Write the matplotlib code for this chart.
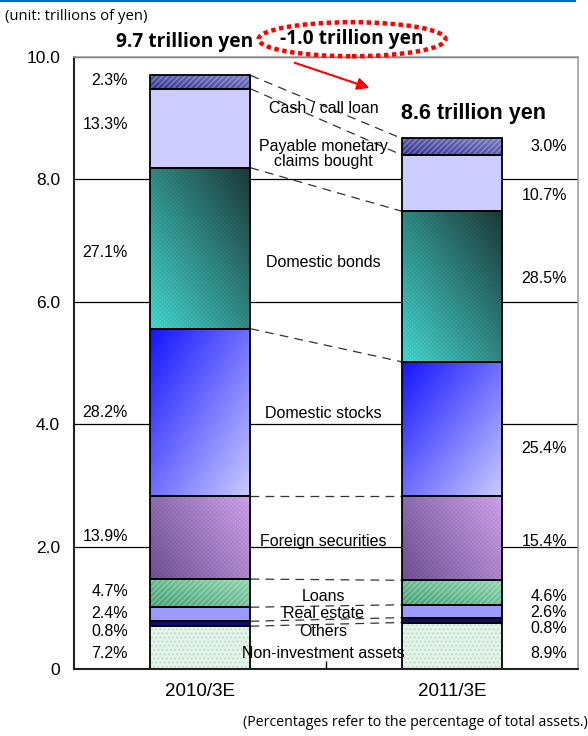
import numpy as np
import matplotlib.pyplot as plt
from matplotlib.patches import Ellipse
from matplotlib.lines import Line2D
from matplotlib.colors import to_rgb

# Data (trillions of yen, stacked bottom to top)
periods = ["2010/3E", "2011/3E"]
categories = ["Non-investment assets", "Others", "Real estate", "Loans",
              "Foreign securities", "Domestic stocks", "Domestic bonds",
              "Payable monetary\nclaims bought", "Cash / call loan"]
values_2010 = [0.70, 0.08, 0.23, 0.46, 1.35, 2.74, 2.63, 1.29, 0.22]
values_2011 = [0.76, 0.08, 0.21, 0.40, 1.37, 2.20, 2.46, 0.92, 0.27]
pct_2010 = ["7.2%", "0.8%", "2.4%", "4.7%", "13.9%", "28.2%", "27.1%", "13.3%", "2.3%"]
pct_2011 = ["8.9%", "0.8%", "2.6%", "4.6%", "15.4%", "25.4%", "28.5%", "10.7%", "3.0%"]
totals = ["9.7 trillion yen", "8.6 trillion yen"]
change = "-1.0 trillion yen"
yticks = [0, 2, 4, 6, 8, 10]
ytick_labels = ["0", "2.0", "4.0", "6.0", "8.0", "10.0"]

# label placement (layout only)
pct_y_2010 = [0.25, 0.61, 0.90, 1.26, 2.16, 4.19, 6.81, 8.89, 9.61]
pct_y_2011 = [0.25, 0.67, 0.92, 1.18, 2.09, 3.60, 6.38, 7.74, 8.54]
name_y = [0.25, 0.61, 0.90, 1.18, 2.09, 4.17, 6.64, 8.41, 9.15]

# fill styles: start colour, end colour, gradient direction, hatch, hatch colour
fills = [
    ("#e4f4ea", "#e4f4ea", (1, 0), "....", (0.55, 0.75, 0.62, 0.35)),
    ("#0b0b70", "#0b0b70", (1, 0), None, None),
    ("#9a9aff", "#9a9aff", (1, 0), None, None),
    ("#3f9f70", "#8fd6b0", (1, 1), "//////", (1, 1, 1, 0.3)),
    ("#74559a", "#d8aaf8", (1, 0.5), "xxxxxxxx", (0, 0, 0, 0.08)),
    ("#1414ff", "#cacaff", (1, -1), None, None),
    ("#48e2da", "#1c3c3a", (1, 1), "xxxxxxxx", (0, 0, 0, 0.08)),
    ("#ccccff", "#ccccff", (1, 0), None, None),
    ("#30308c", "#7c7cc8", (1, 1), "//////", (1, 1, 1, 0.3)),
]

MAIN = "Liberation Sans"
JP = "Open Sans"

fig, ax = plt.subplots(figsize=(5.88, 7.36), dpi=100)
fig.subplots_adjust(left=0.126, right=0.983, bottom=0.091, top=0.9226)

x = np.arange(len(periods))
width = 0.4
vals = np.array([values_2010, values_2011])
tops = np.cumsum(vals, axis=1)
bottoms = tops - vals


def gradient(c0, c1, d, n=80):
    u, v = np.meshgrid(np.linspace(0, 1, n), np.linspace(0, 1, n))
    t = d[0] * u + d[1] * v
    t = (t - t.min()) / (t.max() - t.min())
    a, b = np.array(to_rgb(c0)), np.array(to_rgb(c1))
    return a + (b - a) * t[..., None]


for k in range(len(categories)):
    c0, c1, d, hatch, hcol = fills[k]
    bars = ax.bar(x, vals[:, k], width, bottom=bottoms[:, k], color=c0,
                  edgecolor="none", zorder=2)
    if c0 != c1:
        for p in bars:
            im = ax.imshow(gradient(c0, c1, d), origin="lower", aspect="auto",
                           extent=(p.get_x(), p.get_x() + p.get_width(),
                                   p.get_y(), p.get_y() + p.get_height()),
                           zorder=2.1, interpolation="bilinear")
            im.set_clip_path(p)
    if hatch:
        ax.bar(x, vals[:, k], width, bottom=bottoms[:, k], facecolor="none",
               edgecolor=hcol, linewidth=0, hatch=hatch, zorder=2.2)
    ax.bar(x, vals[:, k], width, bottom=bottoms[:, k], facecolor="none",
           edgecolor="black", linewidth=1.3, zorder=2.5)

# connectors between bars
for k in range(len(categories)):
    ax.plot([x[0] + width / 2, x[1] - width / 2], [tops[0, k], tops[1, k]],
            ls=(0, (7, 5)), color="#333333", lw=0.9, zorder=1.5)

# labels
for k, name in enumerate(categories):
    ax.text(-0.286, pct_y_2010[k], pct_2010[k], ha="right", va="center",
            fontsize=11.5, family=MAIN)
    ax.text(1.456, pct_y_2011[k], pct_2011[k], ha="right", va="center",
            fontsize=11.5, family=MAIN)
    ax.text(0.49, name_y[k], name, ha="center", va="center", fontsize=11.5,
            family=MAIN, linespacing=1.0, zorder=3)

ax.set_xlim(-0.5, 1.5)
ax.set_ylim(0, 10)
ax.set_yticks(yticks, ytick_labels, fontsize=12.5, family=MAIN)
ax.set_xticks(x, periods, fontsize=13.5, family=MAIN)
ax.set_xticks([0.5], minor=True)
ax.tick_params(axis="both", which="major", length=0, pad=10)
ax.tick_params(axis="x", which="minor", direction="in", length=6, width=1)
ax.yaxis.grid(True, color="black", lw=0.9)
ax.set_axisbelow(True)
for s in ("left", "bottom"):
    ax.spines[s].set_color("#222222")
    ax.spines[s].set_linewidth(1.5)
for s in ("top", "right"):
    ax.spines[s].set_color("#a0a0a0")
    ax.spines[s].set_linewidth(1.2)

# totals and change annotation
ax.text(-0.06, 10.25, totals[0], ha="center", va="center", fontsize=13.8,
        fontweight="bold", family=JP, clip_on=False)
ax.text(1.087, 9.07, totals[1], ha="center", va="center", fontsize=15.5,
        fontweight="bold", family=MAIN)
ax.add_patch(Ellipse((0.603, 10.29), 0.742, 0.556, facecolor="white",
                     edgecolor="red", lw=3.2, linestyle=(0, (1, 0.8)),
                     clip_on=False, zorder=5))
ax.text(0.603, 10.29, change, ha="center", va="center", fontsize=13.8,
        fontweight="bold", family=JP, zorder=6, clip_on=False)
ax.annotate("", xy=(0.683, 9.48), xytext=(0.365, 9.92),
            arrowprops=dict(arrowstyle="-|>", color="red", lw=1.5,
                            mutation_scale=18), annotation_clip=False, zorder=6)

fig.text(0.008, 0.977, "(unit: trillions of yen)", ha="left", va="center",
         fontsize=10.7, family=JP)
fig.text(0.999, 0.019, "(Percentages refer to the percentage of total assets.)",
         ha="right", va="center", fontsize=10.2, family=JP)
fig.add_artist(Line2D([0, 0.978], [0.998, 0.998], transform=fig.transFigure,
                      color="#0070c0", lw=1.5))

fig.savefig("out.png", dpi=100)
